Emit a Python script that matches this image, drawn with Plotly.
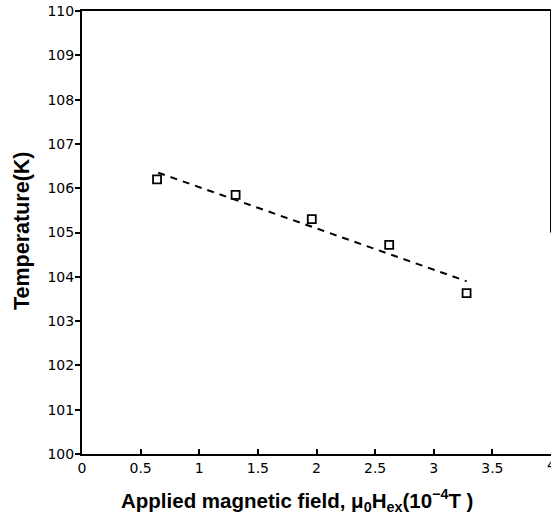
import plotly.graph_objects as go

field = [0.64, 1.31, 1.96, 2.62, 3.28]
temp = [106.2, 105.85, 105.3, 104.72, 103.63]
fit_field = [0.65, 3.28]
fit_temp = [106.35, 103.9]

x_ticks = [0, 0.5, 1, 1.5, 2, 2.5, 3, 3.5, 4]
x_labels = ["0", "0.5", "1", "1.5", "2", "2.5", "3", "3.5", "4"]
y_ticks = list(range(100, 111))
y_labels = [str(v) for v in y_ticks]

fig = go.Figure()
fig.add_trace(go.Scatter(x=fit_field, y=fit_temp, mode="lines",
                         line=dict(color="black", width=2, dash="7px,6px"),
                         showlegend=False, hoverinfo="skip"))
fig.add_trace(go.Scatter(x=field, y=temp, mode="markers",
                         marker=dict(symbol="square-open", size=8, color="black",
                                     line=dict(width=1.8, color="black")),
                         showlegend=False))

tickfont = dict(family="DejaVu Sans, sans-serif", size=14, color="black")
fig.update_xaxes(range=[0, 4], tickvals=x_ticks[:-1], ticktext=x_labels[:-1],
                 showline=True, linecolor="black", linewidth=2, mirror=True,
                 ticks="inside", ticklen=5, tickwidth=1.5, tickcolor="black",
                 showgrid=False, zeroline=False, tickfont=tickfont)
fig.update_yaxes(range=[100, 110], tickvals=y_ticks, ticktext=y_labels,
                 showline=True, linecolor="black", linewidth=2, mirror=False,
                 ticks="outside", ticklen=5, tickwidth=1.5, tickcolor="black",
                 ticklabelstandoff=-2,
                 showgrid=False, zeroline=False, tickfont=tickfont)

# last x tick label sits on the page edge and is partly cut off, as in the original
fig.add_annotation(text=x_labels[-1], xref="x", yref="paper", x=x_ticks[-1], y=-(465 - 454) / 443,
                   showarrow=False, font=tickfont, xanchor="center", yanchor="middle")

# partial right border, as in the scanned original
fig.add_shape(type="line", xref="paper", yref="y", x0=1, x1=1, y0=110, y1=105,
              line=dict(color="black", width=2))

fig.add_annotation(text="<b>Applied magnetic field, μ<sub>0</sub>H<sub>ex</sub>(10<sup>−4</sup>T )</b>",
                   xref="paper", yref="paper", x=(297 - 82) / 469, y=-(500 - 454) / 443,
                   showarrow=False, font=dict(family="Liberation Sans, Arial, sans-serif", size=20.5, color="black"),
                   xanchor="center", yanchor="middle")
fig.add_annotation(text="<b>Temperature(K)</b>",
                   xref="paper", yref="paper", x=-(82 - 22) / 469, y=(454 - 231) / 443,
                   showarrow=False, font=dict(family="Liberation Sans, Arial, sans-serif", size=21.5, color="black"),
                   xanchor="center", yanchor="middle", textangle=-90)

fig.update_layout(width=551, height=518, margin=dict(l=82, r=0, t=11, b=64),
                  plot_bgcolor="white", paper_bgcolor="white")
fig.write_html("out.html")
